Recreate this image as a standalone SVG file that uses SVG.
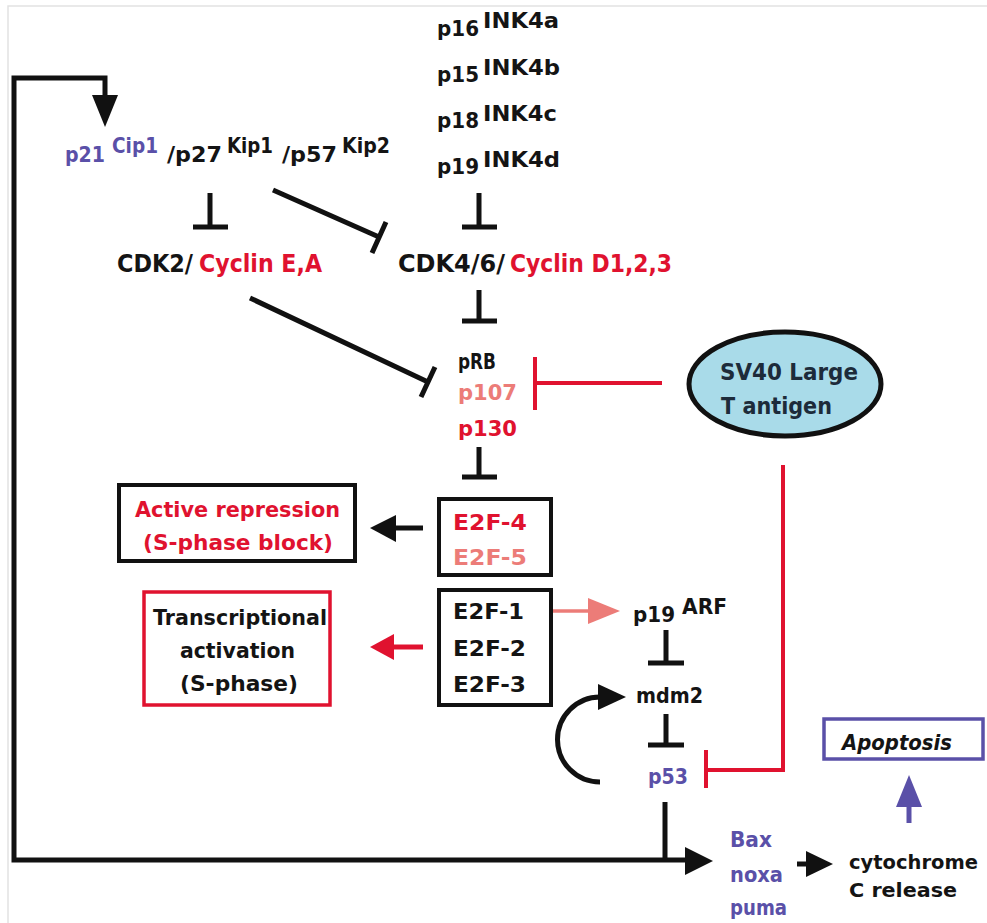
<svg xmlns="http://www.w3.org/2000/svg" width="987" height="923" viewBox="0 0 987 923">
<defs>
<style>
text{font-family:"DejaVu Sans","Liberation Sans",sans-serif;font-weight:bold;font-size:22px;fill:#141414}
.r{fill:#e0122f}.s{fill:#ec7c78}.u{fill:#5a50a8}.n{fill:#1d2b3a}
.f24{font-size:24px}.f20{font-size:20px}.f21{font-size:21px}.f23{font-size:23px}
.it{font-style:italic}
.ln{fill:none;stroke:#111;stroke-width:5}
.lr{fill:none;stroke:#e0122f;stroke-width:4}
.ls{fill:none;stroke:#ec7c78;stroke-width:3.5}
.lu{fill:none;stroke:#5a50a8;stroke-width:5}
.hk{fill:#111}.hr{fill:#e0122f}.hs{fill:#ec7c78}.hu{fill:#5a50a8}
.box{fill:#fff;stroke:#111;stroke-width:4}
</style>
</defs>
<rect width="987" height="923" fill="#fff"/>
<path d="M8 923V6H987" fill="none" stroke="#e2e2e2" stroke-width="1.5"/>

<g id="connectors">
  <path class="ln" d="M105 98V78H14V860H690"/>
  <polygon class="hk" points="92,95 118,95 105,127"/>
  <polygon class="hk" points="685,847 713,861 685,875"/>
  <path class="ln" d="M665 802V860"/>
  <path class="ln" d="M210 193V227M193 227H228"/>
  <path class="ln" d="M273 190L379 237M372 253L386 222"/>
  <path class="ln" d="M479 193V227M462 227H497"/>
  <path class="ln" d="M479 290V321M462 321H497"/>
  <path class="ln" d="M250 298L428 382M421 397L435 367"/>
  <path class="ln" d="M479 447V477M462 477H497"/>
  <path class="lr" d="M662 383H535M535 357V410"/>
  <path class="lr" d="M783 465V770H706M706 750V788"/>
  <path class="ln" d="M423 528H393"/>
  <polygon class="hk" points="396,515 370,528 396,542"/>
  <path class="lr" d="M423 647H392" style="stroke-width:5"/>
  <polygon class="hr" points="394,634 370,647 394,660"/>
  <path class="ls" d="M540 611H592"/>
  <polygon class="hs" points="588,598 620,611 588,624"/>
  <path class="ln" d="M666 630V663M648 663H684"/>
  <path class="ln" d="M666 714V745M648 745H684"/>
  <path class="ln" d="M600 782A42 42 0 0 1 600 697"/>
  <polygon class="hk" points="598,684 626,697 598,710"/>
  <path class="ln" d="M797 864H810"/>
  <polygon class="hk" points="806,851 833,864 806,877"/>
  <path class="lu" d="M909 823V803"/>
  <polygon class="hu" points="896,807 909,775 922,807"/>
</g>

<g id="ink4">
  <text x="437" y="36" textLength="42" lengthAdjust="spacingAndGlyphs">p16</text>
  <text class="f21" x="483" y="28" textLength="76" lengthAdjust="spacingAndGlyphs">INK4a</text>
  <text x="437" y="82" textLength="42" lengthAdjust="spacingAndGlyphs">p15</text>
  <text class="f21" x="483" y="75" textLength="77" lengthAdjust="spacingAndGlyphs">INK4b</text>
  <text x="437" y="128" textLength="42" lengthAdjust="spacingAndGlyphs">p18</text>
  <text class="f21" x="483" y="121" textLength="74" lengthAdjust="spacingAndGlyphs">INK4c</text>
  <text x="437" y="174" textLength="42" lengthAdjust="spacingAndGlyphs">p19</text>
  <text class="f21" x="483" y="167" textLength="77" lengthAdjust="spacingAndGlyphs">INK4d</text>
</g>

<g id="cip-kip">
  <text class="u" x="65" y="162" textLength="40" lengthAdjust="spacingAndGlyphs">p21</text>
  <text class="u f21" x="112" y="153" textLength="46" lengthAdjust="spacingAndGlyphs">Cip1</text>
  <text x="167" y="162" textLength="55" lengthAdjust="spacingAndGlyphs">/p27</text>
  <text class="f21" x="227" y="153" textLength="46" lengthAdjust="spacingAndGlyphs">Kip1</text>
  <text x="282" y="162" textLength="55" lengthAdjust="spacingAndGlyphs">/p57</text>
  <text class="f21" x="342" y="153" textLength="48" lengthAdjust="spacingAndGlyphs">Kip2</text>
</g>

<g id="cdk2">
  <text class="f24" x="117" y="272" textLength="76" lengthAdjust="spacingAndGlyphs">CDK2/</text>
  <text class="f24 r" x="199" y="272" textLength="123" lengthAdjust="spacingAndGlyphs">Cyclin E,A</text>
</g>

<g id="cdk4">
  <text class="f24" x="398" y="272" textLength="107" lengthAdjust="spacingAndGlyphs">CDK4/6/</text>
  <text class="f24 r" x="510" y="272" textLength="162" lengthAdjust="spacingAndGlyphs">Cyclin D1,2,3</text>
</g>

<g id="pocket-proteins">
  <text class="f21" x="458" y="369" textLength="38" lengthAdjust="spacingAndGlyphs">pRB</text>
  <text class="s" x="458" y="400" textLength="59" lengthAdjust="spacingAndGlyphs">p107</text>
  <text class="r" x="458" y="436" textLength="59" lengthAdjust="spacingAndGlyphs">p130</text>
</g>

<g id="sv40">
  <ellipse cx="785" cy="384" rx="96" ry="52" fill="#a9dbe9" stroke="#111" stroke-width="5"/>
  <text class="f23 n" x="720" y="380" textLength="138" lengthAdjust="spacingAndGlyphs">SV40 Large</text>
  <text class="f23 n" x="721" y="414" textLength="111" lengthAdjust="spacingAndGlyphs">T antigen</text>
</g>

<g id="active-repression">
  <rect class="box" x="119" y="485" width="236" height="76"/>
  <text class="r" x="135" y="517" textLength="205" lengthAdjust="spacingAndGlyphs">Active repression</text>
  <text class="r" x="143" y="550" textLength="190" lengthAdjust="spacingAndGlyphs">(S-phase block)</text>
</g>

<g id="transcriptional-activation">
  <rect class="box" x="144" y="592" width="186" height="113" style="stroke:#e0122f;stroke-width:3.5"/>
  <text x="153" y="625" textLength="174" lengthAdjust="spacingAndGlyphs">Transcriptional</text>
  <text x="180" y="658" textLength="115" lengthAdjust="spacingAndGlyphs">activation</text>
  <text x="180" y="691" textLength="118" lengthAdjust="spacingAndGlyphs">(S-phase)</text>
</g>

<g id="e2f-4-5">
  <rect class="box" x="439" y="499" width="112" height="76"/>
  <text class="r" x="453" y="530" textLength="74" lengthAdjust="spacingAndGlyphs">E2F-4</text>
  <text class="s" x="453" y="565" textLength="74" lengthAdjust="spacingAndGlyphs">E2F-5</text>
</g>

<g id="e2f-1-2-3">
  <rect class="box" x="439" y="590" width="112" height="115"/>
  <text x="453" y="619" textLength="71" lengthAdjust="spacingAndGlyphs">E2F-1</text>
  <text x="453" y="656" textLength="73" lengthAdjust="spacingAndGlyphs">E2F-2</text>
  <text x="453" y="692" textLength="73" lengthAdjust="spacingAndGlyphs">E2F-3</text>
</g>

<g id="p19arf">
  <text x="633" y="622" textLength="42" lengthAdjust="spacingAndGlyphs">p19</text>
  <text class="f21" x="682" y="614" textLength="45" lengthAdjust="spacingAndGlyphs">ARF</text>
</g>

<g id="mdm2">
  <text x="636" y="703" textLength="67" lengthAdjust="spacingAndGlyphs">mdm2</text>
</g>

<g id="p53">
  <text class="u" x="648" y="784" textLength="40" lengthAdjust="spacingAndGlyphs">p53</text>
</g>

<g id="apoptosis">
  <rect x="824" y="719" width="159" height="40" fill="#fff" stroke="#5a50a8" stroke-width="3.5"/>
  <text class="it" x="842" y="750" textLength="110" lengthAdjust="spacingAndGlyphs">Apoptosis</text>
</g>

<g id="bax-noxa-puma">
  <text class="u" x="730" y="847" textLength="42" lengthAdjust="spacingAndGlyphs">Bax</text>
  <text class="u" x="730" y="882" textLength="53" lengthAdjust="spacingAndGlyphs">noxa</text>
  <text class="u" x="730" y="915" textLength="57" lengthAdjust="spacingAndGlyphs">puma</text>
</g>

<g id="cytochrome-c">
  <text class="f20" x="849" y="869" textLength="129" lengthAdjust="spacingAndGlyphs">cytochrome</text>
  <text class="f20" x="849" y="897" textLength="108" lengthAdjust="spacingAndGlyphs">C release</text>
</g>
</svg>
